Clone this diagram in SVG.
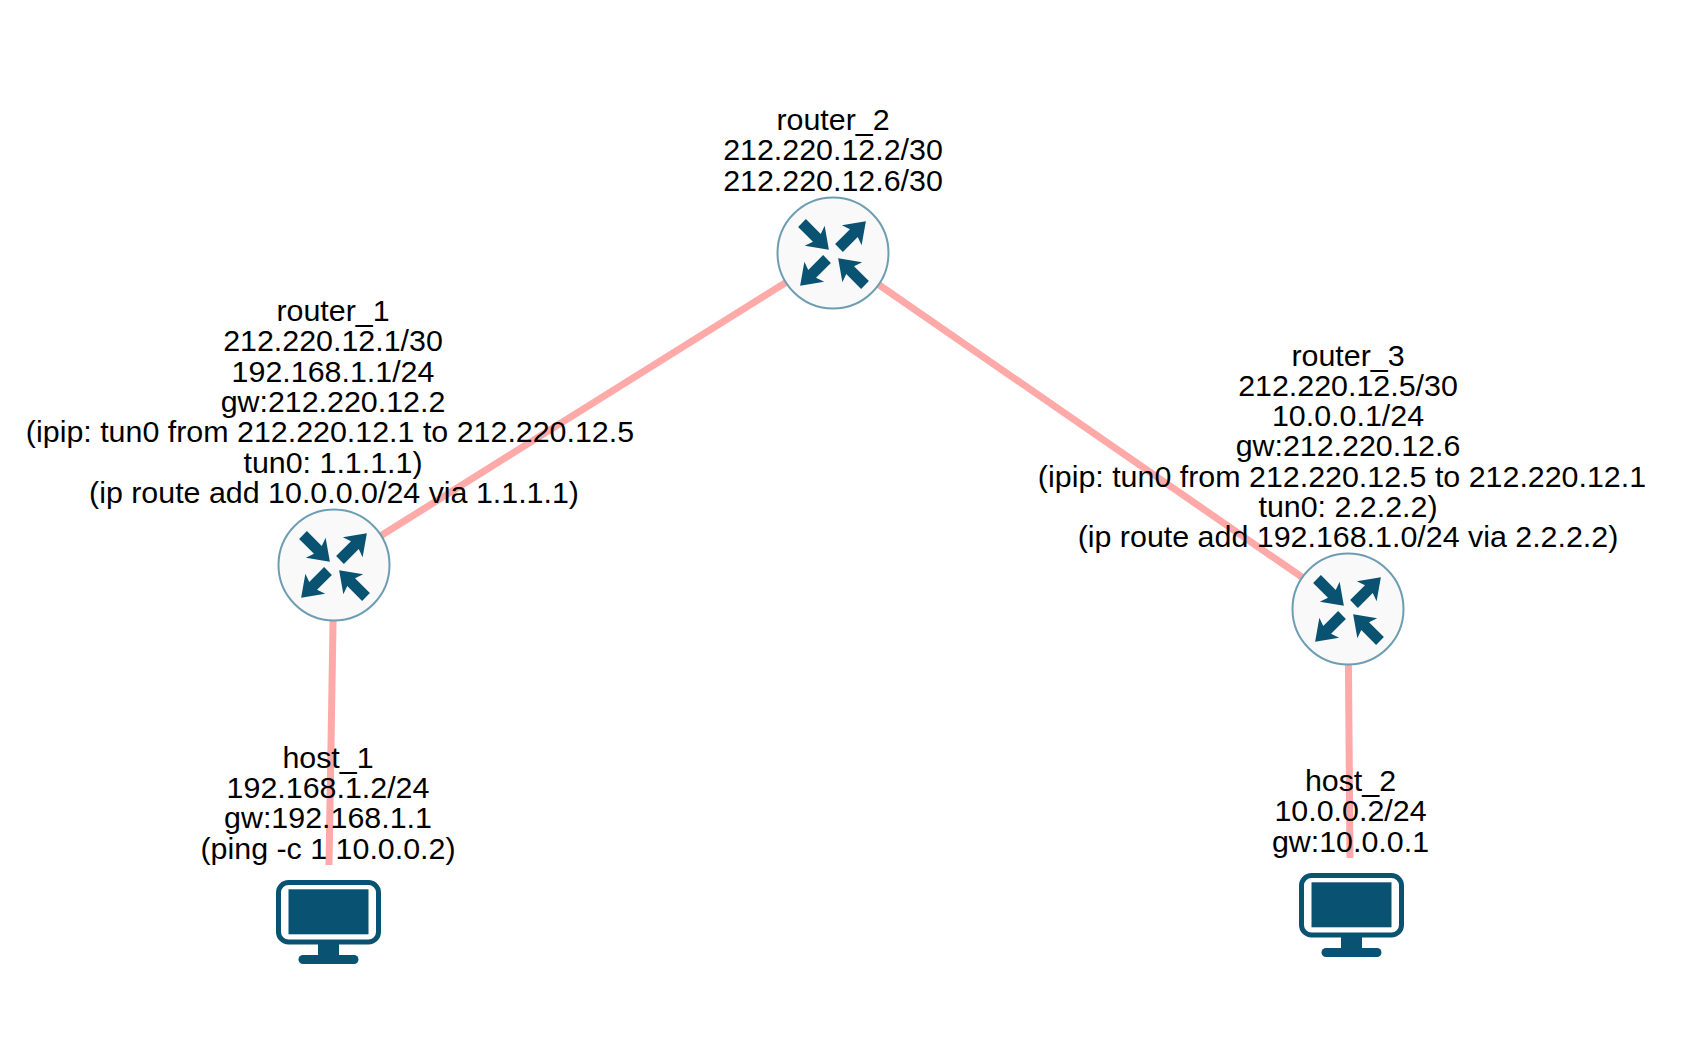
<svg xmlns="http://www.w3.org/2000/svg" width="1682" height="1060" viewBox="0 0 1682 1060">
<style>
.bg{fill:#fff}
.link{stroke:#ffa9a9;stroke-width:7;fill:none}
.lbl{font-family:"Liberation Sans",Arial,Helvetica,sans-serif;font-size:30.4px;fill:#000;text-anchor:middle}
.ring{fill:#f9f9f9;stroke:#6d9db3;stroke-width:2}
.dark{fill:#0a5272}
</style>
<defs>
<path id="arrow" class="dark" d="M0-5.5 L21-5.5 L18-14 L38 0 L18 14 L21 5.5 L0 5.5 Z"/>
<g id="arrows">
<use href="#arrow" transform="translate(-31,-30) rotate(45)"/>
<use href="#arrow" transform="translate(6,-5) rotate(-45)"/>
<use href="#arrow" transform="translate(-6,6) rotate(135)"/>
<use href="#arrow" transform="translate(32,32) rotate(225)"/>
</g>
<g id="router"><circle class="ring" r="55.5"/><use href="#arrows"/></g>
<g id="monitor">
<rect x="-50" y="-39.5" width="100" height="59.5" rx="10" fill="#fff" stroke="#0a5272" stroke-width="5"/>
<rect x="-40" y="-32.7" width="80" height="45" class="dark"/>
<rect x="-10.5" y="21" width="21" height="14" class="dark"/>
<rect x="-30" y="33" width="60" height="9" rx="4.5" class="dark"/>
</g>
</defs>
<rect class="bg" width="1682" height="1060"/>
<g id="connectors">
<line class="link" x1="334" y1="565" x2="833" y2="253"/>
<line class="link" x1="833" y1="253" x2="1348" y2="609"/>
<line class="link" x1="334" y1="565" x2="329" y2="865"/>
<line class="link" x1="1348" y1="609" x2="1350" y2="858"/>
</g>
<g id="router_2"><use href="#router" x="833" y="253"/>
<text class="lbl"><tspan x="833" y="130">router_2</tspan><tspan x="833" y="160">212.220.12.2/30</tspan><tspan x="833" y="190.5">212.220.12.6/30</tspan></text></g>
<g id="router_1"><use href="#router" x="334" y="565"/>
<text class="lbl"><tspan x="333" y="321">router_1</tspan><tspan x="333" y="351">212.220.12.1/30</tspan><tspan x="333" y="381.5">192.168.1.1/24</tspan><tspan x="333" y="411.5">gw:212.220.12.2</tspan><tspan x="330" y="442">(ipip: tun0 from 212.220.12.1 to 212.220.12.5</tspan><tspan x="333" y="472.5">tun0: 1.1.1.1)</tspan><tspan x="334" y="502.5">(ip route add 10.0.0.0/24 via 1.1.1.1)</tspan></text></g>
<g id="router_3"><use href="#router" x="1348" y="609"/>
<text class="lbl"><tspan x="1348" y="365.5">router_3</tspan><tspan x="1348" y="395.5">212.220.12.5/30</tspan><tspan x="1348" y="425.5">10.0.0.1/24</tspan><tspan x="1348" y="456">gw:212.220.12.6</tspan><tspan x="1342" y="486.5">(ipip: tun0 from 212.220.12.5 to 212.220.12.1</tspan><tspan x="1348" y="516.5">tun0: 2.2.2.2)</tspan><tspan x="1348" y="547">(ip route add 192.168.1.0/24 via 2.2.2.2)</tspan></text></g>
<g id="host_1"><use href="#monitor" x="328.5" y="922"/>
<text class="lbl"><tspan x="328" y="768">host_1</tspan><tspan x="328" y="798">192.168.1.2/24</tspan><tspan x="328" y="828">gw:192.168.1.1</tspan><tspan x="328" y="858.5">(ping -c 1 10.0.0.2)</tspan></text></g>
<g id="host_2"><use href="#monitor" x="1351.5" y="915"/>
<text class="lbl"><tspan x="1350.5" y="791">host_2</tspan><tspan x="1350.5" y="821">10.0.0.2/24</tspan><tspan x="1350.5" y="851.5">gw:10.0.0.1</tspan></text></g>
</svg>
